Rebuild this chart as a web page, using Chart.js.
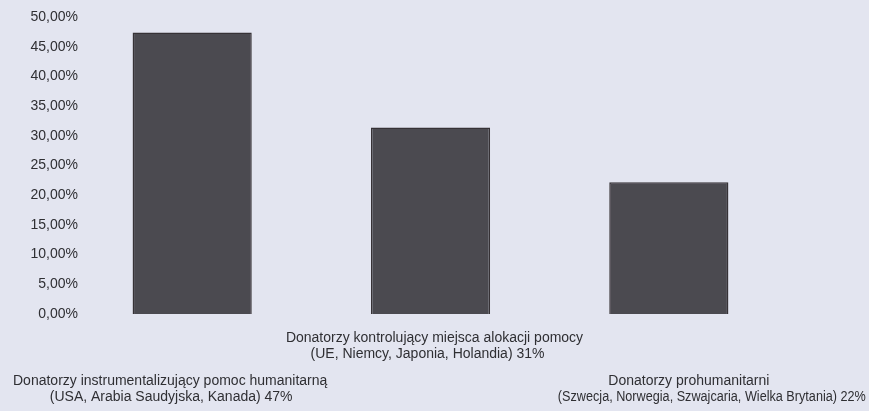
<!DOCTYPE html>
<html>
<head>
<meta charset="utf-8">
<script src="https://cdn.jsdelivr.net/npm/chart.js@4/dist/chart.umd.min.js"></script>
<style>
  html, body { margin: 0; padding: 0; background: #e3e5f0; }
  #wrap { width: 869px; height: 411px; }
</style>
</head>
<body>
<div id="wrap"><canvas id="chart" width="869" height="411"></canvas></div>
<script>
// categories (two lines each) and values in percent
const categoryLines = [
  ["Donatorzy instrumentalizujący pomoc humanitarną", "(USA, Arabia Saudyjska, Kanada) 47%"],
  ["Donatorzy kontrolujący miejsca alokacji pomocy", "(UE, Niemcy, Japonia, Holandia) 31%"],
  ["Donatorzy prohumanitarni", "(Szwecja, Norwegia, Szwajcaria, Wielka Brytania) 22%"]
]
const shares = [47.4, 31.4, 22.2]
const yTicks = [0, 5, 10, 15, 20, 25, 30, 35, 40, 45, 50]

const textColor = '#2f2f33'
const font = "'Liberation Sans', Arial, sans-serif"

const fmtPct = v => v.toFixed(2).replace('.', ',') + '%'

// Excel-style axis text: y labels hang slightly into the plot area,
// category labels are staggered in two rows
const axisText = {
  id: 'axisText',
  afterDraw(chart) {
    const ctx = chart.ctx
    const xs = chart.scales.x
    const ys = chart.scales.y
    const bottom = chart.chartArea.bottom
    ctx.save()
    ctx.font = `14px ${font}`
    ctx.fillStyle = textColor
    ctx.textBaseline = 'middle'

    ctx.textAlign = 'right'
    yTicks.forEach(v => {
      ctx.fillText(fmtPct(v), chart.chartArea.left + 5, ys.getPixelForValue(v))
    })

    // per-line horizontal nudges and squeeze, as in the original layout
    const nudge = [[-22, -21], [4, -3], [20, 43]]
    const squeeze = [[0, 0], [0, 0], [0, 308]]
    ctx.textAlign = 'center'
    categoryLines.forEach((lines, i) => {
      const x = xs.getPixelForValue(i)
      const rowTop = i % 2 === 1 ? bottom + 24 : bottom + 67
      lines.forEach((line, j) => {
        const w = squeeze[i][j]
        if (w) ctx.fillText(line, x + nudge[i][j], rowTop + j * 16.5, w)
        else ctx.fillText(line, x + nudge[i][j], rowTop + j * 16.5)
      })
    })
    ctx.restore()
  }
}

new Chart(document.getElementById('chart'), {
  type: 'bar',
  data: {
    labels: categoryLines.map(l => l[0]),
    datasets: [{
      data: shares,
      backgroundColor: '#4b4a50',
      borderColor: '#363236',
      borderWidth: 1.5,
      barPercentage: 1,
      categoryPercentage: 0.5
    }]
  },
  options: {
    responsive: false,
    animation: false,
    layout: { padding: { left: 0, right: 81, top: 17, bottom: 97 } },
    plugins: {
      legend: { display: false },
      tooltip: { enabled: false }
    },
    scales: {
      x: {
        display: false
      },
      y: {
        min: 0,
        max: 50,
        afterFit(scale) { scale.width = 73 },
        afterBuildTicks(scale) { scale.ticks = yTicks.map(v => ({ value: v })) },
        grid: { display: false, drawTicks: false },
        border: { display: false },
        ticks: { display: false }
      }
    }
  },
  plugins: [axisText]
})
</script>
</body>
</html>
